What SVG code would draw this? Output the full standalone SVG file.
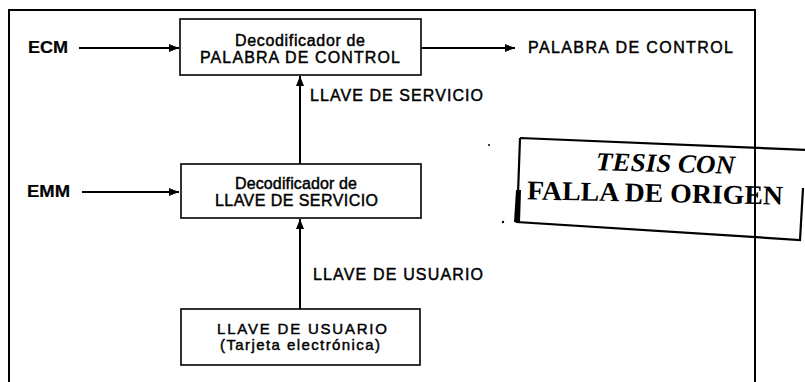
<svg xmlns="http://www.w3.org/2000/svg" width="805" height="382" viewBox="0 0 805 382">
<style>
.frame{fill:none;stroke:#000;stroke-width:2}
.box{fill:#fff;stroke:#000;stroke-width:1.6}
.line{fill:none;stroke:#000;stroke-width:2}
.t{font-family:"Liberation Sans",Arial,sans-serif;font-size:16px;fill:#000;stroke:#000;stroke-width:0.45}
.s{font-size:15px}
.b{font-weight:bold;stroke-width:0.2}
.stamp{fill:none;stroke:#000;stroke-width:2.2}
.st{font-family:"Liberation Serif","Times New Roman",serif;font-weight:bold;fill:#000}
</style>
<defs>
<marker id="ah" viewBox="0 0 10 10" refX="10" refY="5" markerWidth="10" markerHeight="10" markerUnits="userSpaceOnUse" orient="auto">
<path d="M0,1 L10,5 L0,9 Z" fill="#000"/>
</marker>
</defs>
<rect width="805" height="382" fill="#fff"/>
<rect id="frame" class="frame" x="9" y="10" width="746" height="390"/>

<g id="connectors">
<line class="line" x1="79" y1="48" x2="179" y2="48" marker-end="url(#ah)"/>
<line class="line" x1="421" y1="48" x2="515" y2="48" marker-end="url(#ah)"/>
<line class="line" x1="82" y1="192" x2="179" y2="192" marker-end="url(#ah)"/>
<line class="line" x1="300" y1="164" x2="300" y2="76" marker-end="url(#ah)"/>
<line class="line" x1="300" y1="309" x2="300" y2="219" marker-end="url(#ah)"/>
<text class="t" x="310" y="101" textLength="173" lengthAdjust="spacing">LLAVE DE SERVICIO</text>
<text class="t" x="313" y="280" textLength="170" lengthAdjust="spacing">LLAVE DE USUARIO</text>
</g>

<g id="ecm">
<text class="t b" x="28" y="53" textLength="40" lengthAdjust="spacingAndGlyphs">ECM</text>
</g>
<g id="emm">
<text class="t b" x="27" y="197" textLength="43" lengthAdjust="spacingAndGlyphs">EMM</text>
</g>
<g id="out">
<text class="t" x="528" y="53" textLength="205" lengthAdjust="spacing">PALABRA DE CONTROL</text>
</g>

<g id="dec-palabra">
<rect class="box" x="180" y="19" width="241" height="56"/>
<text class="t" x="235" y="46" textLength="130" lengthAdjust="spacing">Decodificador de</text>
<text class="t" x="200" y="63" textLength="200" lengthAdjust="spacing">PALABRA DE CONTROL</text>
</g>

<g id="dec-llave">
<rect class="box" x="181" y="164" width="240" height="54"/>
<text class="t" x="235" y="189" textLength="122" lengthAdjust="spacing">Decodificador de</text>
<text class="t" x="215" y="206" textLength="163" lengthAdjust="spacing">LLAVE DE SERVICIO</text>
</g>

<g id="llave-usuario">
<rect class="box" x="181" y="309" width="239" height="56"/>
<text class="t s" x="217" y="334" textLength="170" lengthAdjust="spacing">LLAVE DE USUARIO</text>
<text class="t s" x="220" y="350" textLength="160" lengthAdjust="spacing">(Tarjeta electrónica)</text>
</g>

<g id="stamp">
<path class="stamp" d="M520,138 L807,150 M520,138 L517,222 L800,240 L803,188"/>
<path d="M516,190 L521,190 L520,223 L514,222 Z" fill="#000"/>
<circle cx="503" cy="222" r="1.2" fill="#000"/>
<circle cx="489" cy="145" r="1" fill="#000"/>
<text class="st" x="596" y="172" font-size="26" font-style="italic" textLength="139" lengthAdjust="spacingAndGlyphs" transform="rotate(1.5 665 165)">TESIS CON</text>
<text class="st" x="527" y="202" font-size="27" textLength="256" lengthAdjust="spacingAndGlyphs" transform="rotate(1.2 655 195)">FALLA DE ORIGEN</text>
</g>
</svg>
